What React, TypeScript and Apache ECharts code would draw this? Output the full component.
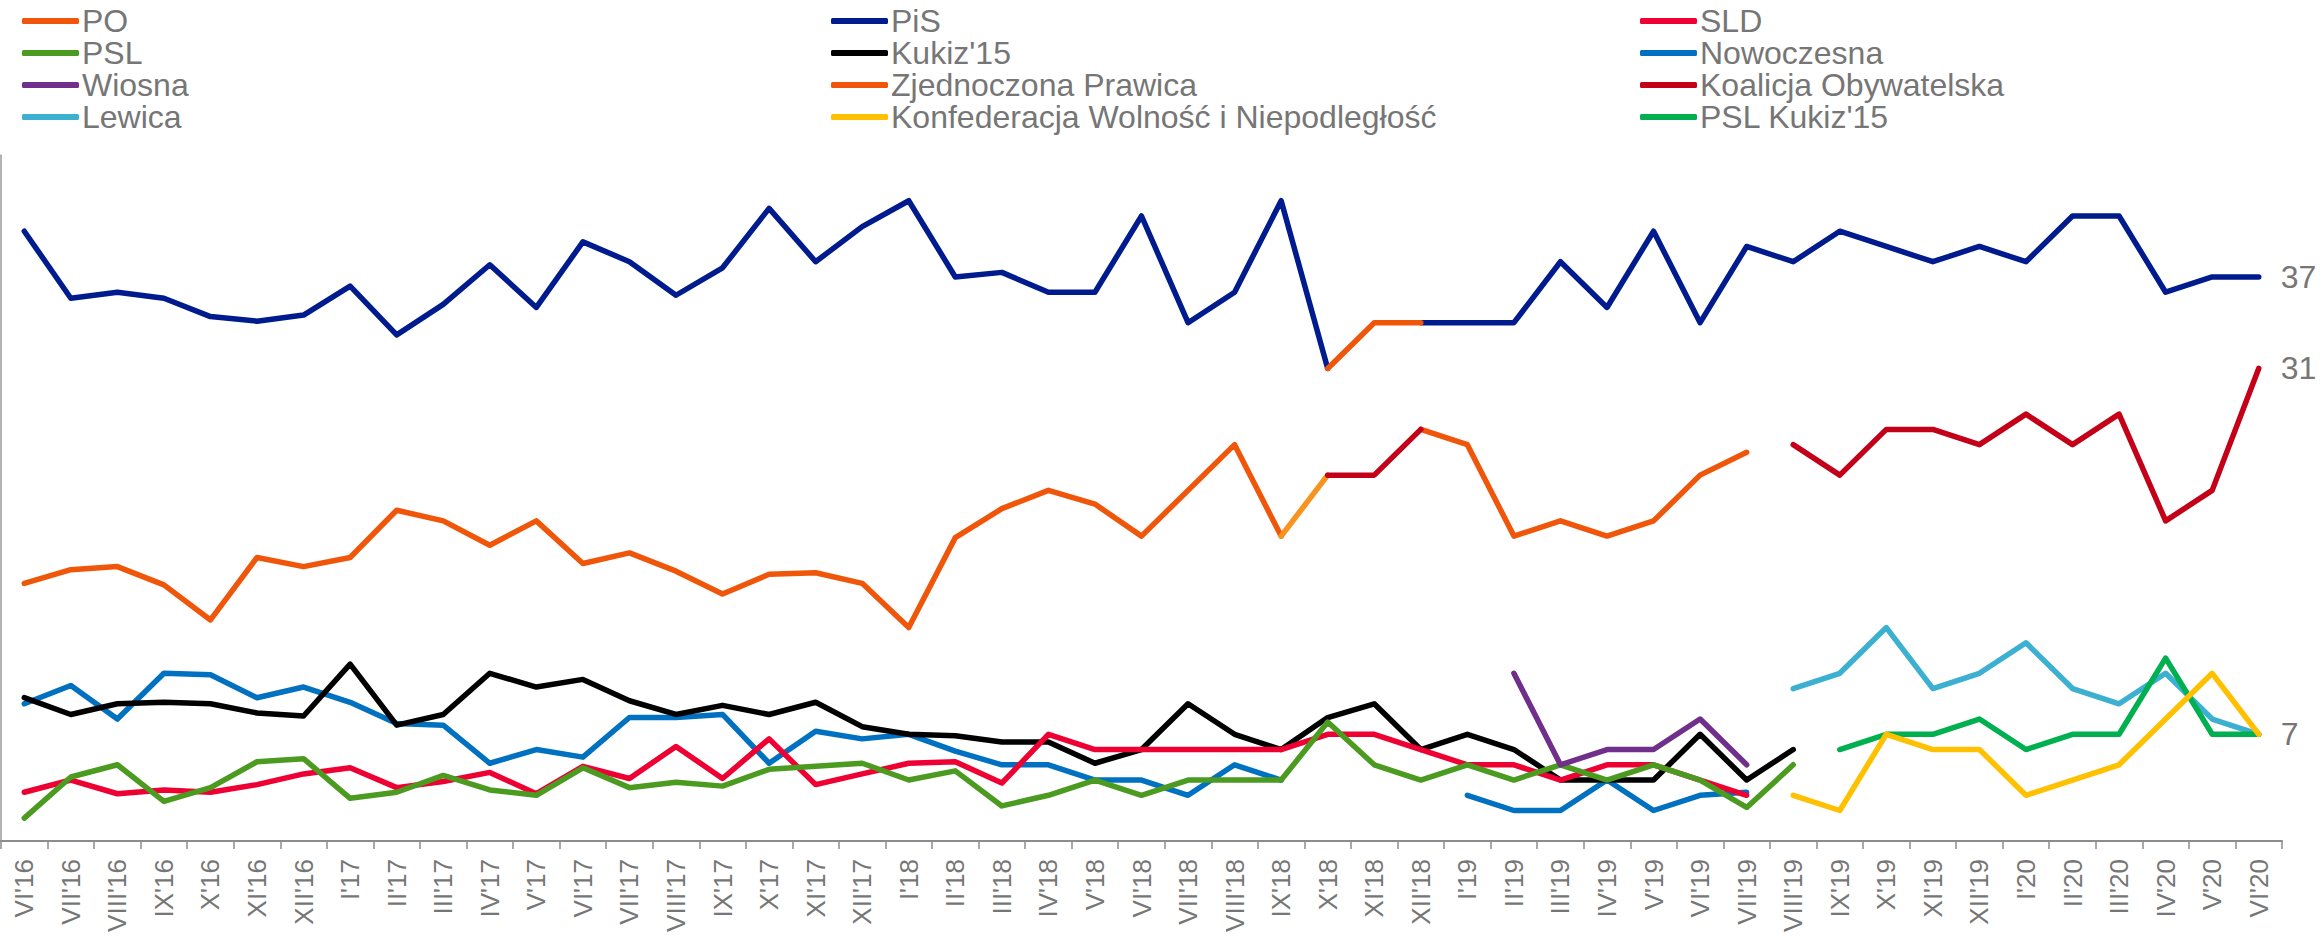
import React, { useEffect, useRef } from "react";
import * as echarts from "echarts";

const categories = [
  "VI'16", "VII'16", "VIII'16", "IX'16", "X'16", "XI'16", "XII'16",
  "I'17", "II'17", "III'17", "IV'17", "V'17", "VI'17", "VII'17", "VIII'17", "IX'17", "X'17", "XI'17", "XII'17",
  "I'18", "II'18", "III'18", "IV'18", "V'18", "VI'18", "VII'18", "VIII'18", "IX'18", "X'18", "XI'18", "XII'18",
  "I'19", "II'19", "III'19", "IV'19", "V'19", "VI'19", "VII'19", "VIII'19", "IX'19", "X'19", "XI'19", "XII'19",
  "I'20", "II'20", "III'20", "IV'20", "V'20", "VI'20",
];

const _ = null;

const po = [16.9, 17.8, 18, 16.8, 14.5, 18.6, 18, 18.6, 21.7, 21, 19.4, 21, 18.2, 18.9, 17.7, 16.2, 17.5, 17.6, 16.9, 14, 19.9, 21.8, 23, 22.1, 20, 23, 26, 20, _, _, 27, 26, 20, 21, 20, 21, 24, 25.5, _, _, _, _, _, _, _, _, _, _, _];
const poToKo = [_, _, _, _, _, _, _, _, _, _, _, _, _, _, _, _, _, _, _, _, _, _, _, _, _, _, _, 20, 24, _, _, _, _, _, _, _, _, _, _, _, _, _, _, _, _, _, _, _, _];
const pis = [40, 35.6, 36, 35.6, 34.4, 34.1, 34.5, 36.4, 33.2, 35.2, 37.8, 35, 39.3, 38, 35.8, 37.6, 41.5, 38, 40.3, 42, 37, 37.3, 36, 36, 41, 34, 36, 42, 31, _, 34, 34, 34, 38, 35, 40, 34, 39, 38, 40, 39, 38, 39, 38, 41, 41, 36, 37, 37];
const sld = [3.2, 4, 3.1, 3.35, 3.2, 3.7, 4.4, 4.8, 3.5, 3.9, 4.5, 3.1, 4.9, 4.1, 6.2, 4.1, 6.7, 3.7, 4.4, 5.1, 5.2, 3.8, 7, 6, 6, 6, 6, 6, 7, 7, 6, 5, 5, 4, 5, 5, 4, 3, _, _, _, _, _, _, _, _, _, _, _];
const psl = [1.5, 4.2, 5, 2.6, 3.5, 5.2, 5.4, 2.8, 3.2, 4.3, 3.35, 3, 4.8, 3.5, 3.85, 3.6, 4.7, 4.9, 5.1, 4, 4.6, 2.3, 3, 4, 3, 4, 4, 4, 7.8, 5, 4, 5, 4, 5, 4, 5, 4, 2.2, 5, _, _, _, _, _, _, _, _, _, _];
const kukiz = [9.4, 8.3, 9, 9.1, 9, 8.4, 8.2, 11.6, 7.6, 8.3, 11, 10.1, 10.6, 9.2, 8.3, 8.9, 8.3, 9.1, 7.5, 7, 6.9, 6.5, 6.5, 5.1, 6, 9, 7, 6, 8.1, 9, 6, 7, 6, 4, 4, 4, 7, 4, 6, _, _, _, _, _, _, _, _, _, _];
const nowoczesna = [9, 10.2, 8, 11, 10.9, 9.4, 10.1, 9.1, 7.7, 7.6, 5.1, 6, 5.5, 8.1, 8.1, 8.3, 5.1, 7.2, 6.7, 7, 5.9, 5, 5, 4, 4, 3, 5, 4, _, _, _, 3, 2, 2, 4, 2, 3, 3.2, _, _, _, _, _, _, _, _, _, _, _];
const wiosna = [_, _, _, _, _, _, _, _, _, _, _, _, _, _, _, _, _, _, _, _, _, _, _, _, _, _, _, _, _, _, _, _, 11, 5, 6, 6, 8, 5, _, _, _, _, _, _, _, _, _, _, _];
const zp = [_, _, _, _, _, _, _, _, _, _, _, _, _, _, _, _, _, _, _, _, _, _, _, _, _, _, _, _, 31, 34, 34, _, _, _, _, _, _, _, _, _, _, _, _, _, _, _, _, _, _];
const ko = [_, _, _, _, _, _, _, _, _, _, _, _, _, _, _, _, _, _, _, _, _, _, _, _, _, _, _, _, 24, 24, 27, _, _, _, _, _, _, _, 26, 24, 27, 27, 26, 28, 26, 28, 21, 23, 31];
const lewica = [_, _, _, _, _, _, _, _, _, _, _, _, _, _, _, _, _, _, _, _, _, _, _, _, _, _, _, _, _, _, _, _, _, _, _, _, _, _, 10, 11, 14, 10, 11, 13, 10, 9, 11, 8, 7];
const konfederacja = [_, _, _, _, _, _, _, _, _, _, _, _, _, _, _, _, _, _, _, _, _, _, _, _, _, _, _, _, _, _, _, _, _, _, _, _, _, _, 3, 2, 7, 6, 6, 3, 4, 5, 8, 11, 7];
const pslKukiz = [_, _, _, _, _, _, _, _, _, _, _, _, _, _, _, _, _, _, _, _, _, _, _, _, _, _, _, _, _, _, _, _, _, _, _, _, _, _, _, 6, 7, 7, 8, 6, 7, 7, 12, 7, 7];

const legendColumns = [
  ["PO", "PSL", "Wiosna", "Lewica"],
  ["PiS", "Kukiz'15", "Zjednoczona Prawica", "Konfederacja Wolność i Niepodległość"],
  ["SLD", "Nowoczesna", "Koalicja Obywatelska", "PSL Kukiz'15"],
];

const FONT = 'Arial, "Liberation Sans", sans-serif';
const GRAY = "#767676";

export default function App() {
  const ref = useRef<HTMLDivElement>(null);
  useEffect(() => {
    if (!ref.current) return;
    const chart = echarts.init(ref.current, undefined, { renderer: "svg" });

    const endLabel = {
      show: true,
      formatter: (p: any) => "{v|" + String(p.value) + "}",
      rich: { v: { color: GRAY, fontSize: 32, fontFamily: "Liberation Sans", fontWeight: "normal" } },
      color: GRAY,
      fontSize: 32,
      fontFamily: "Liberation Sans",
      fontWeight: "normal",
      distance: 22,
    };

    const mk = (name: string, data: any[], color: string, extra: any = {}) => ({
      name,
      type: "line",
      data,
      showSymbol: false,
      symbol: "none",
      connectNulls: false,
      lineStyle: { color, width: 5.5, cap: "round", join: "round" },
      itemStyle: { color },
      emphasis: { disabled: true },
      ...extra,
    });

    const legendLefts = [22, 831, 1640];

    chart.setOption({
      animation: false,
      backgroundColor: "#ffffff",
      textStyle: { fontFamily: FONT },
      legend: legendColumns.map((col, i) => ({
        data: col,
        orient: "vertical",
        left: legendLefts[i],
        top: 5,
        padding: 0,
        itemGap: 0,
        itemWidth: 57,
        itemHeight: 6,
        icon: "roundRect",
        selectedMode: false,
        textStyle: { color: GRAY, fontSize: 32, fontFamily: FONT, lineHeight: 32, padding: [0, 0, 0, -2] },
      })),
      grid: { left: 1, right: 41, top: 155, bottom: 98, containLabel: false },
      xAxis: {
        type: "category",
        data: categories,
        boundaryGap: true,
        axisLine: { show: true, lineStyle: { color: "#8c8c8c", width: 2 } },
        axisTick: { show: true, length: 8, interval: 0, lineStyle: { color: "#8c8c8c", width: 1.5 } },
        axisLabel: { rotate: 90, interval: 0, margin: 18, color: GRAY, fontSize: 26, fontFamily: FONT },
        splitLine: { show: false },
      },
      yAxis: {
        type: "value",
        min: 0,
        max: 45,
        axisLine: { show: true, lineStyle: { color: "#9a9a9a", width: 1.5 } },
        axisTick: { show: false },
        axisLabel: { show: false },
        splitLine: { show: false },
      },
      series: [
        mk("PiS", pis, "#001B8E", { endLabel }),
        mk("Zjednoczona Prawica", zp, "#F0560A"),
        mk("PO", po, "#F0560A"),
        mk("PO-KO", poToKo, "#F7931E"),
        mk("Koalicja Obywatelska", ko, "#C40018", { endLabel }),
        mk("Nowoczesna", nowoczesna, "#0070C0"),
        mk("Kukiz'15", kukiz, "#000000"),
        mk("SLD", sld, "#EE0033"),
        mk("PSL", psl, "#4B9B20"),
        mk("Wiosna", wiosna, "#702F8A"),
        mk("Lewica", lewica, "#3BB0D0"),
        mk("PSL Kukiz'15", pslKukiz, "#00B050", { endLabel }),
        mk("Konfederacja Wolność i Niepodległość", konfederacja, "#FFC000"),
      ],
    });
    return () => chart.dispose();
  }, []);
  return (
    <div
      ref={ref}
      style={{ position: "fixed", left: 0, top: 0, width: 2323, height: 939, background: "#fff" }}
    />
  );
}
